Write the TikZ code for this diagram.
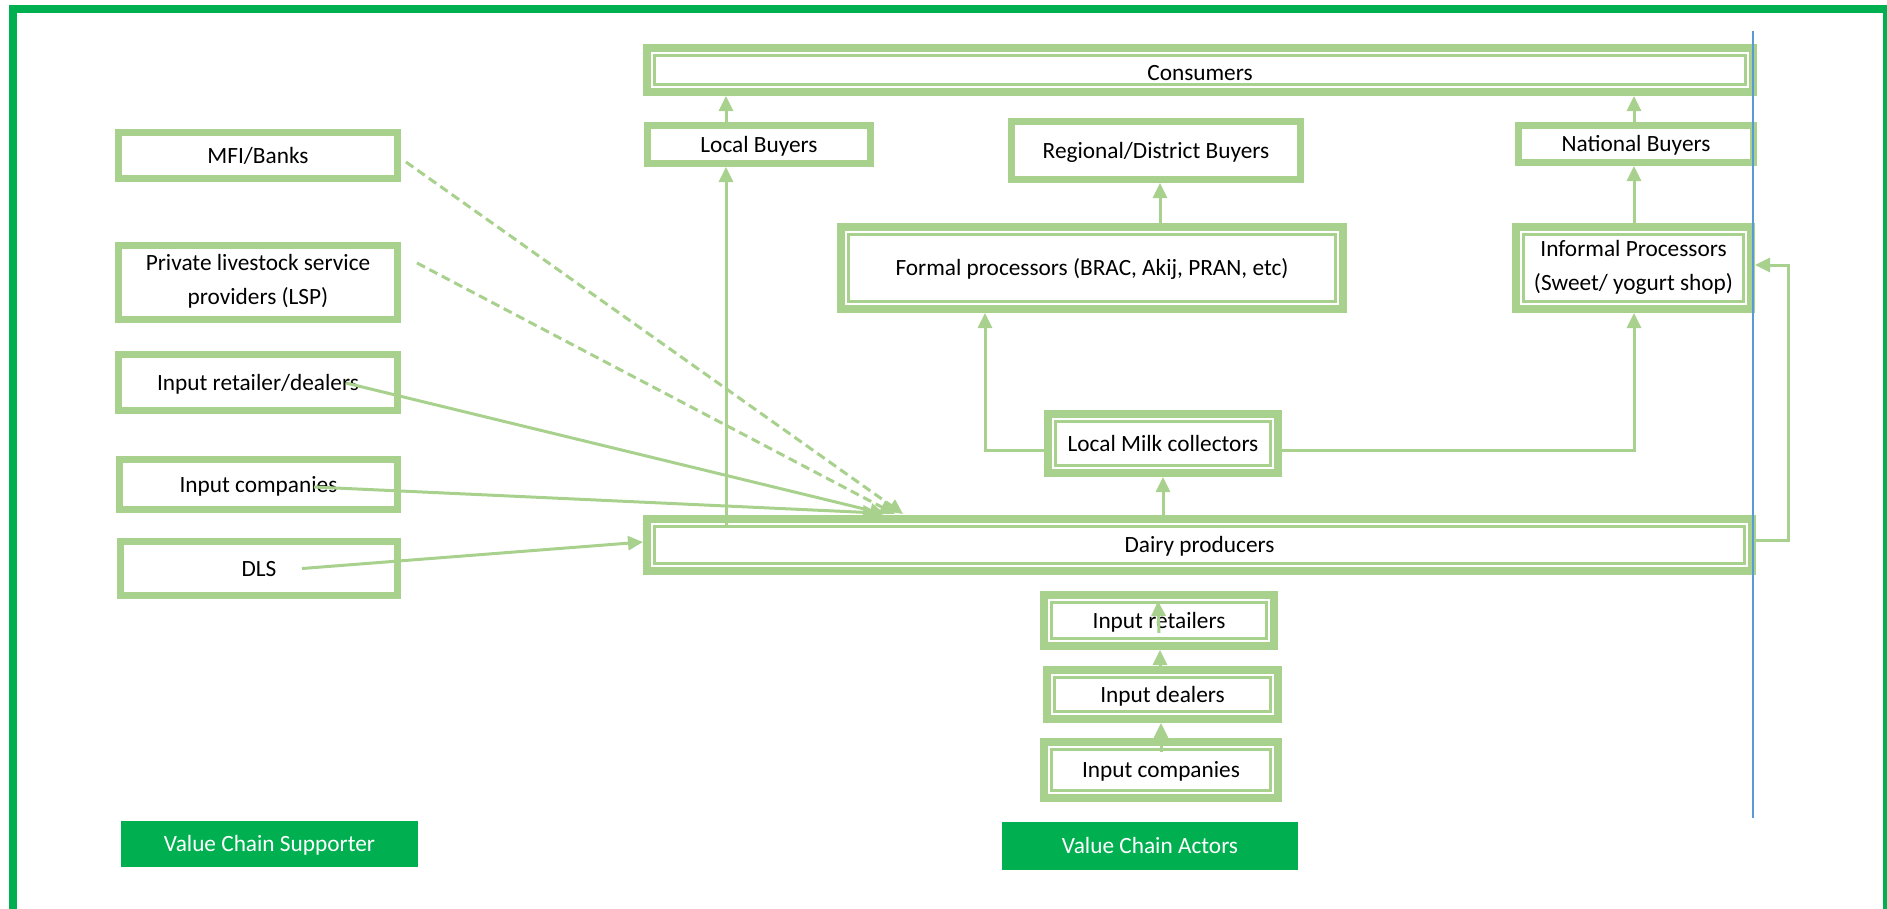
\documentclass[tikz,border=0pt]{standalone}
\usepackage{fontspec}
\setmainfont{Carlito}
\usetikzlibrary{arrows.meta,calc}
\definecolor{boxgreen}{HTML}{A9D18E}
\definecolor{framegreen}{HTML}{00B050}
\definecolor{guideblue}{HTML}{5B9BD5}
% fixed struts so every label sits on the same baseline offset
\newcommand{\lblstrut}{\rule[-6pt]{0pt}{27pt}}
\newcommand{\twostrut}{\rule[-6pt]{0pt}{32pt}}

\begin{document}
\begin{tikzpicture}[x=1pt,y=-1pt,
  every node/.style={font=\fontsize{23.3}{34}\selectfont, inner sep=0pt, align=center, text=black,
    execute at begin node=\lblstrut},
  twoline/.style={execute at begin node=\twostrut},
  sbox/.style={draw=boxgreen, line width=7pt, fill=white, outer sep=3.5pt},
  dbox/.style={draw=boxgreen, line width=8pt, fill=white, outer sep=4pt},
  inline/.style={draw=boxgreen, line width=2.5pt},
  link/.style={draw=boxgreen, line width=3pt},
  arr/.style={link, -{Triangle[width=14pt,length=15pt]}},
  darr/.style={arr, dash pattern=on 9pt off 5pt},
  tag/.style={fill=framegreen, text=white, outer sep=0pt}
]
\useasboundingbox (0,0) rectangle (1887,908);
\clip (0,0) rectangle (1887,908);

% outer frame (open at the bottom)
\draw[framegreen, line width=8pt] (13,930) -- (13,9) -- (1887,9) -- (1887,930);

% value chain actors
\node[dbox, minimum width=1106pt, minimum height=44pt] (cons) at (1200,70) {\raisebox{-3pt}{Consumers}};
\node[sbox, minimum width=223pt, minimum height=38pt] (lb) at (759,144.5) {Local Buyers};
\node[sbox, minimum width=289pt, minimum height=58pt] (rb) at (1156,150.5) {Regional/District Buyers};
\node[sbox, minimum width=235pt, minimum height=37pt] (nb) at (1636,144) {National Buyers};
\node[dbox, minimum width=502pt, minimum height=82pt] (fp) at (1092,268) {Formal processors (BRAC, Akij, PRAN, etc)};
\node[dbox, twoline, minimum width=235pt, minimum height=82pt] (ip) at (1633.5,268) {Informal Processors\\(Sweet/ yogurt shop)};
\node[dbox, minimum width=230pt, minimum height=59pt] (lmc) at (1163,443.5) {Local Milk collectors};
\node[dbox, minimum width=1105pt, minimum height=52pt] (dp) at (1199.5,545) {Dairy producers};
\node[dbox, minimum width=230pt, minimum height=51pt] (ir) at (1159,620.5) {Input retailers};
\node[dbox, minimum width=231pt, minimum height=49pt] (id) at (1162.5,694.5) {Input dealers};
\node[dbox, minimum width=234pt, minimum height=56pt] (icr) at (1161,770) {Input companies};

% inner rules of the double-framed boxes
\foreach \n in {cons,fp,ip,lmc,dp,ir,id,icr}
  \draw[inline] ($(\n.north west)+(11.5,11.5)$) rectangle ($(\n.south east)+(-11.5,-11.5)$);

% value chain supporters
\node[sbox, minimum width=279pt, minimum height=46pt] (mfi) at (258,155.5) {MFI/Banks};
\node[sbox, twoline, minimum width=279pt, minimum height=74pt] (lsp) at (258,282.5) {Private livestock service\\providers (LSP)};
\node[sbox, minimum width=279pt, minimum height=56pt] (ird) at (258,382.5) {Input retailer/dealers};
\node[sbox, minimum width=278pt, minimum height=50pt] (icl) at (258.5,484.5) {Input companies};
\node[sbox, minimum width=277pt, minimum height=54pt] (dls) at (259,568.5) {DLS};

% legend tags
\node[tag, minimum width=297pt, minimum height=46pt] (vcs) at (269.5,844) {Value Chain Supporter};
\node[tag, minimum width=296pt, minimum height=48pt] (vca) at (1150,846) {Value Chain Actors};

% vertical guide columns
\coordinate (xlb) at (726,0);
\coordinate (xnb) at (1634,0);
\coordinate (xrb) at (1160,0);
\coordinate (xfp) at (985,0);
\coordinate (xlm) at (1163,0);
\coordinate (xin) at (1160,0);
\coordinate (xloop) at (1788,0);

% flows between actors
\draw[arr] (xlb |- lb.north) -- (xlb |- cons.south);
\draw[arr] (xnb |- nb.north) -- (xnb |- cons.south);
\draw[arr] ($(xlb |- dp.north)+(0,12)$) -- (xlb |- lb.south);
\draw[arr] (xrb |- fp.north) -- (xrb |- rb.south);
\draw[arr] (xnb |- ip.north) -- (xnb |- nb.south);
\draw[arr] ($(lmc.west)+(0,7)$) -| (xfp |- fp.south);
\draw[arr] ($(lmc.east)+(0,7)$) -| (xnb |- ip.south);
\draw[arr] (xlm |- dp.north) -- (xlm |- lmc.south);
\draw[arr] ($(dp.east)+(0,-5)$) -- ($(xloop |- dp.east)+(0,-5)$) |- ($(ip.east)+(0,-3)$);
\draw[arr] ($(ir.center)+(0,12.5)$) -- ($(ir.north)+(-1,10)$);
\draw[arr] (xin |- id.north) -- (xin |- ir.south);
\draw[arr] ($(xin |- icr.north)+(1,14)$) -- ($(xin |- id.south)+(1,0)$);

% supporter links into the producers
\coordinate (tmfi) at ($(dp.north west)+(260,-1)$);
\coordinate (tlsp) at ($(dp.north west)+(252,-1)$);
\coordinate (tird) at ($(dp.north west)+(242,-1)$);
\coordinate (ticl) at ($(dp.north west)+(235,-2)$);
\draw[darr] ($(mfi.east)+(5,6.5)$) -- (tmfi);
\draw[darr] ($(lsp.east)+(16,-19.5)$) -- (tlsp);
\draw[arr] ($(ird.center)+(88,0.5)$) -- (tird);
\draw[arr] ($(icl.center)+(55.5,2.5)$) -- (ticl);
\draw[arr] ($(dls.center)+(43,0)$) -- ($(dp.west)+(0,-3)$);

% guide line
\draw[guideblue, line width=1.5pt] (1753,31) -- (1753,818);
\end{tikzpicture}
\end{document}
